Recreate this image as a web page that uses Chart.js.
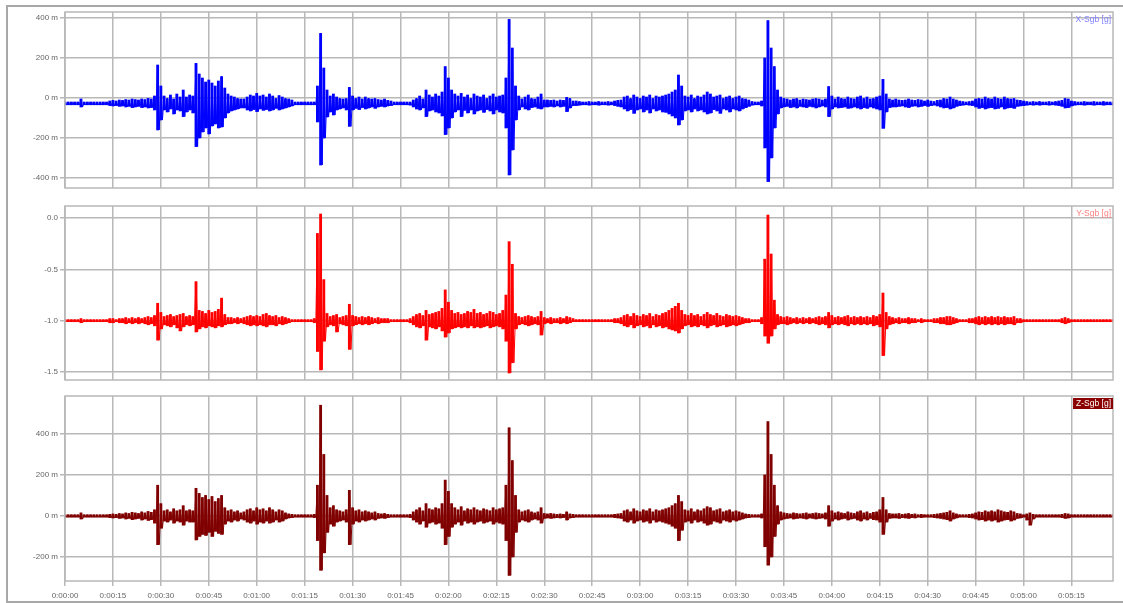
<!DOCTYPE html>
<html>
<head>
<meta charset="utf-8">
<script src="https://cdn.jsdelivr.net/npm/chart.js@4.4.1/dist/chart.umd.min.js"></script>
<style>
  body { margin: 0; background: #fff; }
  #wrap { position: relative; width: 1123px; height: 603px; overflow: hidden; }
  #frame { position: absolute; left: 6px; top: 5px; width: 1117px; height: 598px; box-sizing: border-box;
           border-left: 2px solid #a8a8a8; border-top: 2px solid #a8a8a8; border-bottom: 2px solid #a8a8a8; }
  canvas { position: absolute; left: 0; }
</style>
</head>
<body>
<div id="wrap">
  <div id="frame"></div>
  <canvas id="cx" width="1123" height="200" style="top:0px"></canvas>
  <canvas id="cy" width="1123" height="195" style="top:195px"></canvas>
  <canvas id="cz" width="1123" height="218" style="top:385px"></canvas>
</div>
<script>
// one (max, min) pair per second, 0 .. 328 s
const tickSeconds = [0, 15, 30, 45, 60, 75, 90, 105, 120, 135, 150, 165, 180, 195, 210, 225, 240, 255, 270, 285, 300, 315]

// X-Sgb, in mg
const xHi = [
  -20,-20,-20,-20,-20,-5,-20,-20,-20,-20,
  -20,-20,-20,-20,-15,-12,-15,-10,-12,-8,
  -10,-5,-8,-10,-5,-8,-2,-5,10,165,
  60,10,0,15,-5,20,5,40,5,15,
  10,173,120,100,80,90,75,60,85,107,
  50,20,10,5,0,-5,-5,5,15,10,
  23,10,15,5,20,10,0,12,5,0,
  -5,-10,-20,-20,-20,-20,-20,-20,-20,60,
  323,150,40,10,20,5,0,-5,0,53,
  10,0,5,-5,5,0,-5,0,-8,-10,
  -5,-12,-15,-20,-20,-20,-20,-20,-20,-10,
  0,10,-5,40,15,5,20,10,30,157,
  100,40,20,10,23,5,15,0,20,10,
  5,15,0,10,20,5,10,15,100,393,
  250,60,10,-5,5,15,0,-5,5,20,
  -10,-10,-12,-10,-15,-10,-12,3,0,-15,
  -15,-18,-20,-20,-18,-20,-20,-18,-20,-20,
  -18,-20,-15,-12,-10,5,10,0,15,5,
  0,10,5,15,0,10,5,10,15,20,
  30,40,115,60,10,5,15,0,10,5,
  15,30,20,5,10,15,0,5,10,0,
  5,10,0,-5,-10,-18,-20,-20,-15,200,
  387,250,157,40,5,0,-5,-10,-5,0,
  -10,-5,-8,-10,-5,0,-5,-10,-5,57,
  10,-5,5,0,-5,5,0,-5,5,10,
  0,5,-5,0,5,10,93,20,-5,-10,
  -5,-10,-12,-10,-5,-10,-12,-8,-10,-15,
  -10,-15,-18,-12,-10,0,-5,5,-5,-10,
  -15,-18,-20,-18,-15,-5,0,-5,5,0,
  -5,5,0,-5,5,0,-5,0,-10,-12,
  -15,-18,-20,-18,-20,-18,-20,-20,-18,-20,
  -18,-15,-12,0,-5,-15,-18,-20,-20,-18,
  -20,-20,-18,-20,-20,-18,-20,-20,-20
]
const xLo = [
  -34,-34,-34,-34,-34,-45,-34,-34,-34,-34,
  -34,-34,-34,-34,-38,-40,-38,-42,-40,-45,
  -42,-48,-45,-42,-48,-45,-50,-48,-60,-160,
  -110,-60,-70,-55,-80,-60,-65,-93,-70,-60,
  -75,-243,-200,-170,-150,-180,-140,-130,-150,-145,
  -100,-75,-65,-60,-55,-50,-50,-60,-65,-58,
  -68,-55,-62,-58,-65,-60,-52,-60,-55,-50,
  -45,-40,-34,-34,-34,-34,-34,-34,-34,-120,
  -335,-200,-95,-70,-85,-60,-55,-50,-60,-142,
  -60,-52,-58,-48,-55,-50,-45,-52,-45,-42,
  -45,-40,-38,-34,-34,-34,-34,-34,-36,-45,
  -55,-60,-50,-93,-65,-60,-70,-75,-90,-183,
  -150,-100,-70,-60,-93,-62,-75,-60,-80,-65,
  -60,-72,-58,-65,-80,-60,-70,-75,-150,-385,
  -260,-110,-60,-45,-55,-60,-48,-45,-52,-55,
  -45,-45,-42,-45,-40,-45,-42,-68,-50,-38,
  -38,-36,-34,-34,-36,-34,-34,-36,-34,-34,
  -36,-34,-38,-42,-45,-55,-65,-58,-77,-60,
  -55,-70,-60,-75,-55,-65,-60,-70,-72,-80,
  -90,-100,-135,-110,-65,-60,-70,-55,-65,-60,
  -70,-80,-75,-58,-65,-77,-55,-60,-70,-55,
  -60,-65,-55,-48,-42,-36,-34,-34,-40,-250,
  -418,-300,-150,-80,-50,-45,-42,-48,-45,-50,
  -42,-45,-48,-42,-45,-50,-45,-40,-45,-93,
  -55,-45,-50,-48,-45,-52,-50,-45,-50,-55,
  -48,-52,-45,-50,-55,-60,-152,-70,-48,-45,
  -45,-42,-40,-45,-48,-42,-40,-45,-42,-38,
  -42,-38,-36,-40,-45,-50,-48,-55,-50,-42,
  -38,-36,-34,-36,-38,-45,-52,-48,-55,-50,
  -48,-55,-52,-45,-55,-50,-48,-52,-42,-40,
  -38,-36,-34,-36,-34,-36,-34,-34,-36,-34,
  -36,-38,-42,-50,-48,-40,-36,-34,-34,-36,
  -34,-34,-36,-34,-34,-36,-34,-34,-34
]

// Y-Sgb, in g
const yHi = [
  -0.99,-0.99,-0.99,-0.99,-0.99,-0.98,-0.99,-0.99,-0.99,-0.99,
  -0.99,-0.99,-0.99,-0.99,-0.98,-0.98,-0.99,-0.98,-0.98,-0.97,
  -0.98,-0.97,-0.98,-0.97,-0.98,-0.97,-0.96,-0.97,-0.95,-0.83,
  -0.92,-0.96,-0.95,-0.94,-0.96,-0.95,-0.94,-0.93,-0.96,-0.95,
  -0.96,-0.62,-0.90,-0.91,-0.93,-0.90,-0.92,-0.91,-0.89,-0.78,
  -0.94,-0.97,-0.97,-0.98,-0.97,-0.98,-0.97,-0.96,-0.95,-0.96,
  -0.95,-0.96,-0.94,-0.93,-0.95,-0.96,-0.95,-0.97,-0.96,-0.97,
  -0.98,-0.99,-0.99,-0.99,-0.99,-0.99,-0.99,-0.99,-0.98,-0.15,
  0.04,-0.60,-0.93,-0.96,-0.95,-0.94,-0.97,-0.96,-0.95,-0.84,
  -0.95,-0.96,-0.97,-0.96,-0.97,-0.96,-0.97,-0.98,-0.97,-0.98,
  -0.98,-0.98,-0.99,-0.99,-0.99,-0.99,-0.99,-0.99,-0.98,-0.96,
  -0.94,-0.93,-0.95,-0.90,-0.94,-0.93,-0.92,-0.91,-0.88,-0.70,
  -0.82,-0.90,-0.93,-0.92,-0.94,-0.93,-0.91,-0.92,-0.89,-0.93,
  -0.92,-0.94,-0.93,-0.91,-0.92,-0.94,-0.93,-0.90,-0.75,-0.23,
  -0.45,-0.93,-0.96,-0.97,-0.96,-0.95,-0.96,-0.97,-0.96,-0.91,
  -0.97,-0.98,-0.97,-0.98,-0.98,-0.97,-0.98,-0.96,-0.97,-0.98,
  -0.99,-0.99,-0.99,-0.99,-0.99,-0.99,-0.99,-0.99,-0.99,-0.99,
  -0.99,-0.99,-0.98,-0.98,-0.97,-0.95,-0.94,-0.96,-0.93,-0.95,
  -0.96,-0.94,-0.95,-0.93,-0.96,-0.94,-0.95,-0.93,-0.92,-0.90,
  -0.88,-0.86,-0.83,-0.90,-0.94,-0.95,-0.93,-0.95,-0.94,-0.96,
  -0.94,-0.92,-0.94,-0.95,-0.93,-0.95,-0.96,-0.94,-0.95,-0.96,
  -0.95,-0.96,-0.97,-0.98,-0.98,-0.99,-0.99,-0.99,-0.97,-0.40,
  0.03,-0.35,-0.80,-0.94,-0.96,-0.97,-0.96,-0.97,-0.98,-0.97,
  -0.98,-0.97,-0.98,-0.97,-0.98,-0.97,-0.96,-0.97,-0.96,-0.92,
  -0.95,-0.97,-0.96,-0.97,-0.96,-0.95,-0.97,-0.96,-0.97,-0.96,
  -0.97,-0.96,-0.97,-0.95,-0.96,-0.94,-0.73,-0.92,-0.96,-0.97,
  -0.98,-0.97,-0.98,-0.98,-0.97,-0.98,-0.98,-0.99,-0.98,-0.99,
  -0.99,-0.99,-0.98,-0.98,-0.97,-0.97,-0.96,-0.96,-0.97,-0.98,
  -0.99,-0.99,-0.99,-0.98,-0.98,-0.97,-0.96,-0.97,-0.96,-0.97,
  -0.96,-0.97,-0.96,-0.97,-0.96,-0.97,-0.97,-0.96,-0.98,-0.98,
  -0.99,-0.99,-0.99,-0.99,-0.99,-0.99,-0.99,-0.99,-0.99,-0.99,
  -0.99,-0.99,-0.98,-0.97,-0.98,-0.99,-0.99,-0.99,-0.99,-0.99,
  -0.99,-0.99,-0.99,-0.99,-0.99,-0.99,-0.99,-0.99,-0.99
]
const yLo = [
  -1.01,-1.01,-1.01,-1.01,-1.01,-1.02,-1.01,-1.01,-1.01,-1.01,
  -1.01,-1.01,-1.01,-1.01,-1.02,-1.02,-1.01,-1.02,-1.02,-1.03,
  -1.02,-1.03,-1.02,-1.03,-1.02,-1.03,-1.04,-1.03,-1.05,-1.19,
  -1.08,-1.04,-1.05,-1.06,-1.04,-1.07,-1.10,-1.06,-1.04,-1.05,
  -1.04,-1.11,-1.08,-1.06,-1.07,-1.05,-1.06,-1.07,-1.05,-1.06,
  -1.04,-1.03,-1.03,-1.02,-1.03,-1.02,-1.03,-1.04,-1.05,-1.04,
  -1.05,-1.04,-1.05,-1.06,-1.04,-1.04,-1.05,-1.03,-1.04,-1.03,
  -1.02,-1.01,-1.01,-1.01,-1.01,-1.01,-1.01,-1.01,-1.02,-1.30,
  -1.48,-1.20,-1.06,-1.04,-1.05,-1.11,-1.03,-1.04,-1.05,-1.28,
  -1.05,-1.04,-1.03,-1.04,-1.03,-1.04,-1.03,-1.02,-1.03,-1.02,
  -1.02,-1.02,-1.01,-1.01,-1.01,-1.01,-1.01,-1.01,-1.02,-1.04,
  -1.06,-1.07,-1.05,-1.19,-1.06,-1.07,-1.08,-1.06,-1.10,-1.16,
  -1.12,-1.08,-1.07,-1.06,-1.07,-1.06,-1.07,-1.05,-1.07,-1.06,
  -1.07,-1.06,-1.05,-1.07,-1.06,-1.05,-1.06,-1.08,-1.20,-1.51,
  -1.41,-1.08,-1.04,-1.03,-1.04,-1.05,-1.04,-1.03,-1.04,-1.14,
  -1.03,-1.02,-1.03,-1.02,-1.02,-1.03,-1.02,-1.03,-1.02,-1.01,
  -1.01,-1.01,-1.01,-1.01,-1.01,-1.01,-1.01,-1.01,-1.01,-1.01,
  -1.01,-1.01,-1.02,-1.02,-1.03,-1.05,-1.06,-1.04,-1.07,-1.05,
  -1.04,-1.06,-1.05,-1.07,-1.04,-1.06,-1.05,-1.07,-1.06,-1.08,
  -1.09,-1.10,-1.12,-1.08,-1.05,-1.04,-1.06,-1.05,-1.06,-1.04,
  -1.05,-1.07,-1.05,-1.04,-1.06,-1.05,-1.04,-1.06,-1.05,-1.04,
  -1.05,-1.04,-1.03,-1.02,-1.02,-1.01,-1.01,-1.01,-1.03,-1.15,
  -1.22,-1.15,-1.08,-1.04,-1.03,-1.03,-1.04,-1.03,-1.02,-1.03,
  -1.02,-1.03,-1.02,-1.03,-1.02,-1.03,-1.04,-1.03,-1.04,-1.07,
  -1.04,-1.03,-1.04,-1.03,-1.04,-1.05,-1.03,-1.04,-1.03,-1.04,
  -1.03,-1.04,-1.03,-1.05,-1.04,-1.06,-1.34,-1.08,-1.04,-1.03,
  -1.02,-1.03,-1.02,-1.02,-1.03,-1.02,-1.02,-1.01,-1.02,-1.01,
  -1.01,-1.01,-1.02,-1.02,-1.03,-1.03,-1.04,-1.04,-1.03,-1.02,
  -1.01,-1.01,-1.01,-1.02,-1.02,-1.03,-1.04,-1.03,-1.04,-1.03,
  -1.04,-1.03,-1.04,-1.03,-1.04,-1.03,-1.03,-1.04,-1.02,-1.02,
  -1.01,-1.01,-1.01,-1.01,-1.01,-1.01,-1.01,-1.01,-1.01,-1.01,
  -1.01,-1.01,-1.02,-1.03,-1.02,-1.01,-1.01,-1.01,-1.01,-1.01,
  -1.01,-1.01,-1.01,-1.01,-1.01,-1.01,-1.01,-1.01,-1.01
]

// Z-Sgb, in mg
const zHi = [
  6,6,6,6,6,15,6,6,6,6,
  6,6,6,6,8,10,8,12,10,15,
  12,18,15,12,20,15,22,18,30,150,
  60,25,30,20,35,25,30,50,25,30,
  25,135,110,90,100,80,95,70,85,100,
  40,25,30,20,25,15,20,30,35,25,
  40,30,35,25,40,30,20,30,25,15,
  10,8,6,6,6,6,6,6,8,150,
  540,300,100,40,50,30,25,20,30,125,
  40,25,30,20,25,20,15,20,12,10,
  12,8,6,6,6,6,6,6,8,20,
  30,40,25,60,35,30,40,35,60,175,
  120,60,40,30,45,25,35,30,40,30,
  25,35,30,25,40,30,35,40,150,430,
  270,100,30,20,25,30,20,15,20,40,
  12,10,12,10,8,10,8,20,10,8,
  6,6,6,6,6,6,6,6,6,6,
  6,6,8,10,12,25,30,20,35,25,
  20,30,25,35,20,30,25,30,35,40,
  50,60,100,70,30,25,35,20,30,25,
  35,45,40,25,30,35,20,25,30,20,
  25,20,15,10,8,6,6,6,10,200,
  460,300,150,50,20,15,12,10,15,12,
  10,12,15,10,12,15,12,10,15,50,
  25,15,20,15,12,20,15,12,20,25,
  15,20,12,18,20,30,90,30,12,10,
  10,12,8,10,12,8,10,6,8,6,
  6,6,8,10,12,15,18,25,15,10,
  6,6,6,8,10,15,20,18,25,20,
  25,20,30,25,20,18,25,20,12,10,
  6,10,15,8,6,6,6,6,6,6,
  6,6,8,12,10,6,6,6,6,6,
  6,6,6,6,6,6,6,6,6
]
const zLo = [
  -6,-6,-6,-6,-6,-15,-6,-6,-6,-6,
  -6,-6,-6,-6,-8,-10,-8,-12,-10,-15,
  -12,-18,-15,-12,-20,-15,-22,-18,-35,-140,
  -60,-25,-30,-20,-35,-25,-30,-45,-25,-30,
  -30,-117,-100,-90,-95,-80,-100,-75,-85,-90,
  -40,-25,-30,-20,-25,-15,-20,-30,-35,-25,
  -40,-30,-35,-25,-35,-30,-20,-30,-25,-15,
  -10,-8,-6,-6,-6,-6,-6,-6,-8,-120,
  -265,-180,-80,-40,-50,-30,-25,-20,-30,-140,
  -40,-25,-30,-20,-25,-20,-15,-20,-12,-10,
  -12,-8,-6,-6,-6,-6,-6,-6,-8,-20,
  -30,-40,-25,-55,-35,-30,-40,-35,-60,-140,
  -100,-55,-40,-30,-45,-25,-35,-30,-40,-30,
  -25,-35,-30,-25,-40,-30,-35,-40,-120,-290,
  -200,-80,-30,-20,-25,-30,-20,-15,-20,-35,
  -12,-10,-12,-10,-8,-10,-8,-20,-10,-8,
  -6,-6,-6,-6,-6,-6,-6,-6,-6,-6,
  -6,-6,-8,-10,-12,-25,-30,-20,-35,-25,
  -20,-30,-25,-35,-20,-30,-25,-30,-35,-40,
  -50,-60,-120,-70,-30,-25,-35,-20,-30,-25,
  -35,-45,-40,-25,-30,-35,-20,-25,-30,-20,
  -25,-20,-15,-10,-8,-6,-6,-6,-10,-150,
  -240,-200,-100,-40,-20,-15,-12,-10,-15,-12,
  -10,-12,-15,-10,-12,-15,-12,-10,-15,-50,
  -25,-15,-20,-15,-12,-20,-15,-12,-20,-25,
  -15,-20,-12,-18,-20,-30,-90,-30,-12,-10,
  -10,-12,-8,-10,-12,-8,-10,-6,-8,-6,
  -6,-6,-8,-10,-12,-15,-18,-25,-15,-10,
  -6,-6,-6,-8,-10,-15,-20,-18,-25,-20,
  -25,-20,-30,-25,-20,-18,-25,-20,-12,-10,
  -6,-20,-45,-15,-6,-6,-6,-6,-6,-6,
  -6,-6,-8,-12,-10,-6,-6,-6,-6,-6,
  -6,-6,-6,-6,-6,-6,-6,-6,-6
]

const xTicks = [-400, -200, 0, 200, 400]
const yTicks = [-1.5, -1.0, -0.5, 0.0]
const zTicks = [-200, 0, 200, 400]

const gridColor = '#b8b8b8'
const textColor = '#666'
const tickFont = { family: 'Liberation Sans', size: 8 }

function fmtTime(s) {
  const m = Math.floor(s / 60), sec = s % 60
  return '0:' + String(m).padStart(2, '0') + ':' + String(sec).padStart(2, '0')
}

// thin floating bar [min, max] for every second
function envelope(hi, lo) {
  return hi.map((h, i) => ({ x: i, y: [lo[i], h] }))
}

// zigzag max -> min, fills the gaps between the bars like a dense trace
function trace(hi, lo) {
  const pts = []
  for (let i = 0; i < hi.length; i++) {
    pts.push({ x: i, y: hi[i] })
    pts.push({ x: i + 0.5, y: lo[i] })
  }
  return pts
}

// box around the plot + channel name top right
const panelBox = {
  id: 'panelBox',
  afterDraw(chart, args, opts) {
    const { ctx, chartArea: a } = chart
    ctx.save()
    ctx.strokeStyle = gridColor
    ctx.lineWidth = 1.5
    ctx.strokeRect(a.left, a.top, a.right - a.left, a.bottom - a.top)
    ctx.font = '8.5px "Liberation Sans"'
    ctx.textAlign = 'right'
    ctx.textBaseline = 'middle'
    const w = ctx.measureText(opts.label).width
    if (opts.bg) {
      ctx.fillStyle = opts.bg
      ctx.fillRect(a.right - w - 5, a.top + 2, w + 5, 11)
    }
    ctx.fillStyle = opts.color
    ctx.fillText(opts.label, a.right - 2, a.top + 8)
    ctx.restore()
  }
}

function makePanel(id, hi, lo, color, yMin, yMax, yTicks, yFmt, label, pad, showX) {
  return new Chart(document.getElementById(id), {
    type: 'bar',
    data: {
      datasets: [{
        type: 'line',
        data: trace(hi, lo),
        borderColor: color,
        borderWidth: 1,
        pointRadius: 0,
        tension: 0
      }, {
        data: envelope(hi, lo),
        backgroundColor: color,
        borderWidth: 0,
        barThickness: 2.2,
        borderSkipped: false
      }]
    },
    options: {
      responsive: false,
      animation: false,
      events: [],
      layout: { padding: { left: 0, right: 10, top: pad.top, bottom: pad.bottom } },
      plugins: {
        legend: { display: false },
        tooltip: { enabled: false },
        panelBox: label
      },
      scales: {
        x: {
          type: 'linear', min: 0, max: 328, offset: false,
          afterBuildTicks: s => { s.ticks = tickSeconds.map(v => ({ value: v })) },
          afterFit: s => { s.height = showX ? 22 : 0 },
          grid: { color: gridColor, lineWidth: 1.5, drawTicks: showX, tickLength: 5, offset: false },
          border: { display: false },
          ticks: { display: showX, font: tickFont, color: textColor, padding: 5, maxRotation: 0, autoSkip: false, callback: v => fmtTime(v) }
        },
        y: {
          type: 'linear', min: yMin, max: yMax,
          afterBuildTicks: s => { s.ticks = yTicks.map(v => ({ value: v })) },
          afterFit: s => { s.width = 65 },
          grid: { color: gridColor, lineWidth: 1.5, tickLength: 5 },
          border: { display: false },
          ticks: { font: tickFont, color: textColor, padding: 2, callback: yFmt }
        }
      }
    },
    plugins: [panelBox]
  })
}

const mFmt = v => v + ' m'

makePanel('cx', xHi, xLo, '#0000ff', -450, 430, xTicks, mFmt,
  { label: 'X-Sgb [g]', color: '#8080ff' }, { top: 12, bottom: 12 }, false)
makePanel('cy', yHi, yLo, '#ff0000', -1.578, 0.118, yTicks, v => v.toFixed(1),
  { label: 'Y-Sgb [g]', color: '#ff8080' }, { top: 11, bottom: 10 }, false)
makePanel('cz', zHi, zLo, '#800000', -317, 585, zTicks, mFmt,
  { label: 'Z-Sgb [g]', color: '#ffffff', bg: '#8b0000' }, { top: 11, bottom: 0 }, true)
</script>
</body>
</html>
